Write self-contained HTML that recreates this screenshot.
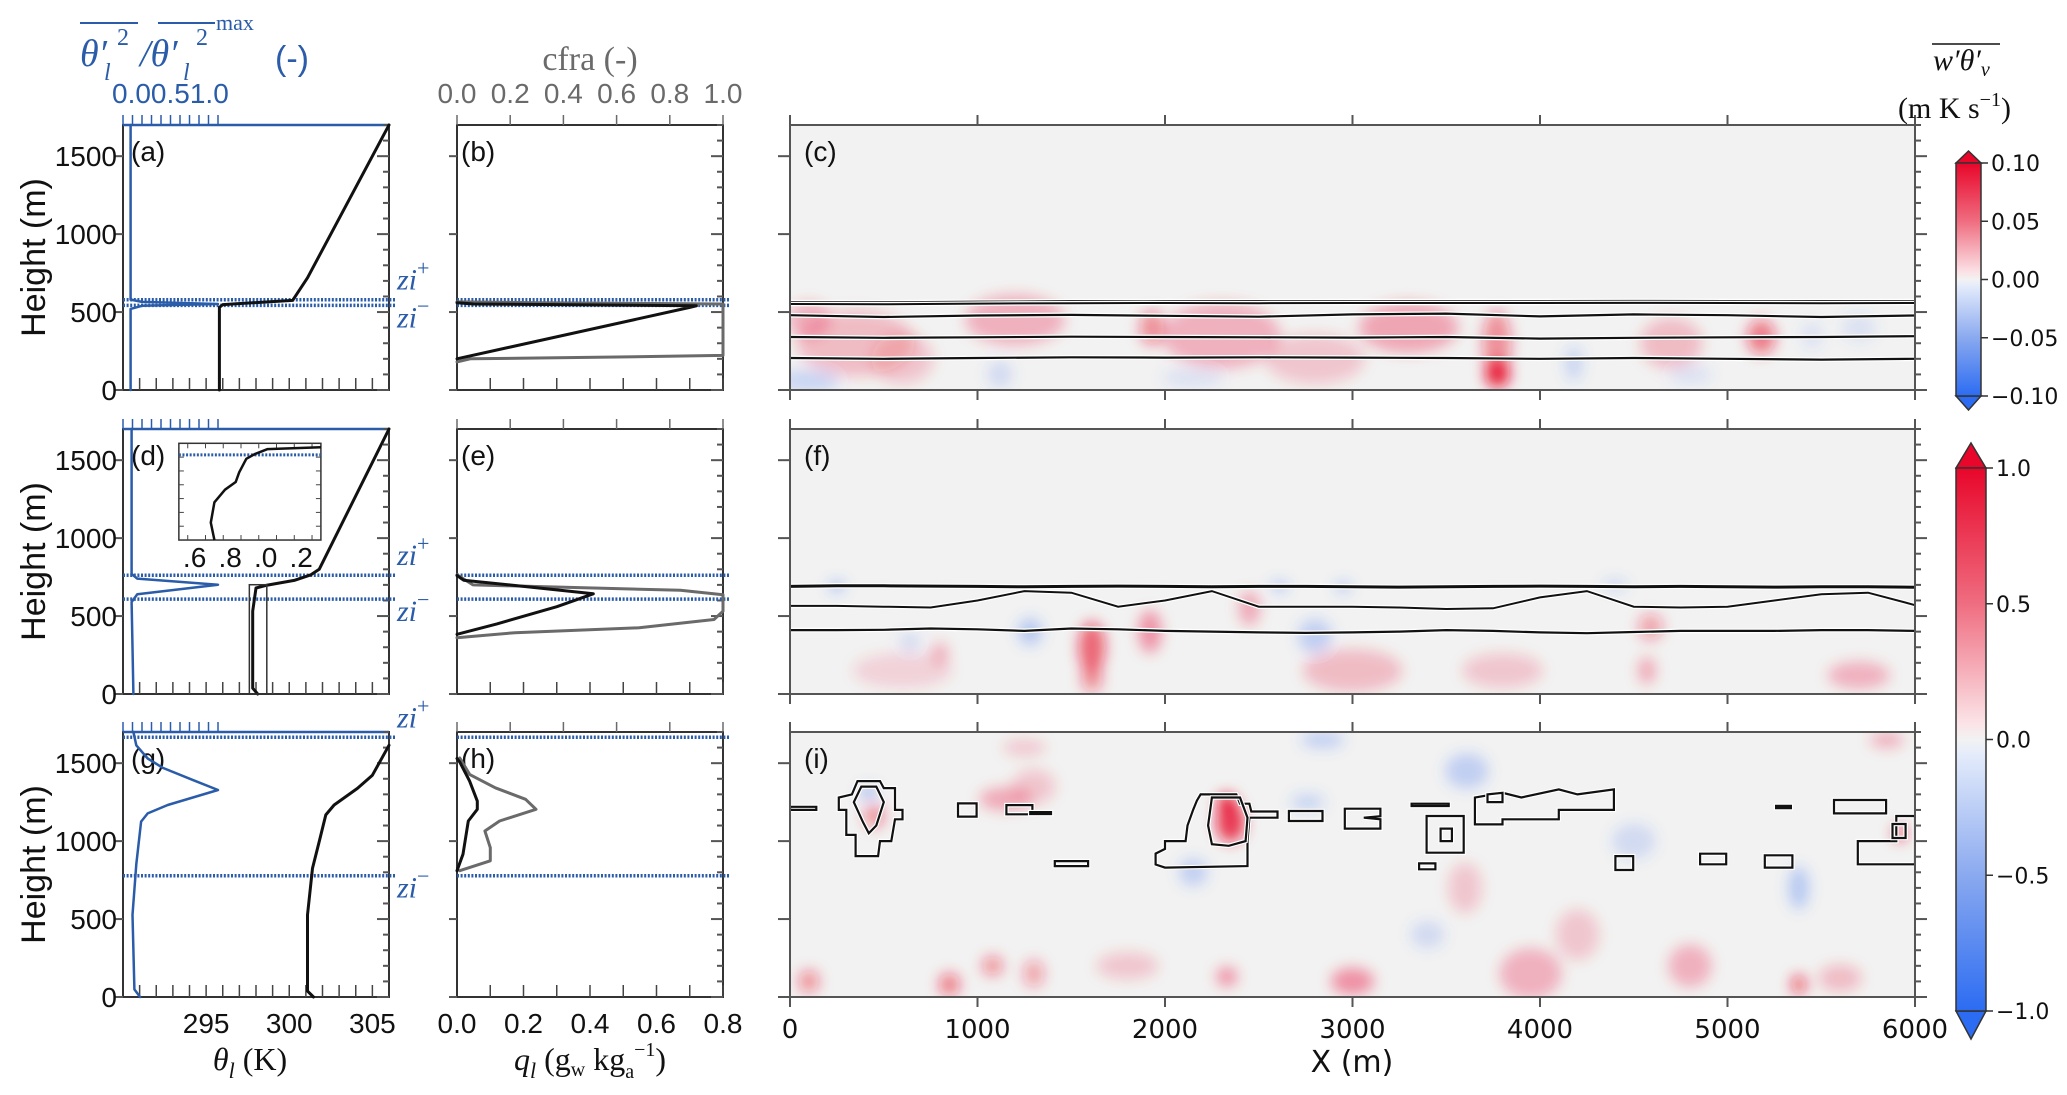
<!DOCTYPE html>
<html><head><meta charset="utf-8">
<style>
html,body{margin:0;padding:0;background:#fff;}
svg{display:block;}
.tk{font-family:"Liberation Sans Narrow","Liberation Sans",sans-serif;font-size:28px;}
.sr{font-family:"Liberation Serif","DejaVu Serif",serif;}
.hx{font-family:"DejaVu Sans","Liberation Sans",sans-serif;font-size:22px;}
</style></head>
<body>
<svg id="fig" width="2067" height="1095" viewBox="0 0 2067 1095" xmlns="http://www.w3.org/2000/svg">
<defs>
<filter id="blur" x="-50%" y="-50%" width="200%" height="200%"><feGaussianBlur stdDeviation="7"/></filter>
<linearGradient id="cbg" x1="0" y1="0" x2="0" y2="1">
<stop offset="0" stop-color="#e8062a"/><stop offset="0.25" stop-color="#ef6d80"/>
<stop offset="0.47" stop-color="#fbe3e7"/><stop offset="0.5" stop-color="#f2f2f2"/>
<stop offset="0.53" stop-color="#e3ebfb"/><stop offset="0.75" stop-color="#8aa9ef"/>
<stop offset="1" stop-color="#2c6cf2"/></linearGradient>
<clipPath id="clipC"><rect x="790" y="125" width="1125" height="265"/></clipPath>
<clipPath id="clipF"><rect x="790" y="429" width="1125" height="265"/></clipPath>
<clipPath id="clipI"><rect x="790" y="732" width="1125" height="265"/></clipPath>
</defs>
<g id="root"></g>
</svg>
<script>
// ---------------- data ----------------
const yTicks=[0,500,1000,1500];
const thetaTicks=[295,300,305];
const qlTicks=[0.0,0.2,0.4,0.6,0.8];
const cfraTicks=[0.0,0.2,0.4,0.6,0.8,1.0];
const xTicks=[0,1000,2000,3000,4000,5000,6000];
const cb1Ticks=[0.10,0.05,0.00,-0.05,-0.10];
const cb2Ticks=[1.0,0.5,0.0,-0.5,-1.0];
// row a/b
const aThetaX=[295.8,295.8,296.0,297.3,300.2,301.1,306.0];
const aThetaZ=[0,530,548,556,575,720,1700];
const aVarX=[0.08,0.08,0.2,1.0,0.2,0.08,0.08];
const aVarZ=[0,520,540,552,565,580,1700];
const bQlX=[0,0.7,0.72,0.05,0];
const bQlZ=[200,530,540,552,560];
const bCfX=[0,0.05,0.6,1.0,1.0,0.3,0];
const bCfZ=[180,200,212,222,552,560,565];
const zi1=[579,543];
// row d/e
const dThetaX=[298.1,297.8,297.8,298.0,298.6,300.3,301.3,301.8,306.0];
const dThetaZ=[0,37,531,680,697,729,765,800,1700];
const dVarX=[0.11,0.1,0.09,0.15,1.0,0.15,0.09,0.09];
const dVarZ=[0,300,590,640,701,740,770,1700];
const eQlX=[0,0.12,0.3,0.41,0.2,0.02,0];
const eQlZ=[383,450,560,643,690,730,760];
const eCfX=[0,0.218,0.685,0.966,1.0,1.0,0.84,0.06,0];
const eCfZ=[361,393,425,478,531,637,665,700,765];
const zi2=[762,609];
const insetX=[0.7,0.68,0.7,0.76,0.82,0.84,0.88,0.93,1.0,1.3];
const insetY=[0.0,0.18,0.39,0.52,0.60,0.70,0.84,0.89,0.94,0.96];
const insetTicks=[".6",".8",".0",".2"];
// row g/h
const gThetaX=[301.46,301.1,301.1,301.4,301.8,302.2,302.7,304.1,305.0,306.0];
const gThetaZ=[0,38,527,826,997,1168,1232,1338,1423,1615];
const gVarX=[0.18,0.12,0.10,0.14,0.19,0.26,0.47,1.0,0.74,0.42,0.26,0.14,0.11];
const gVarZ=[0,49,527,852,1125,1178,1232,1328,1391,1470,1530,1615,1700];
const hQlX=[0,0.018,0.034,0.061,0.061,0.038,0.008,0];
const hQlZ=[810,916,1129,1204,1257,1385,1508,1530];
const hCfX=[0.01,0.125,0.125,0.105,0.16,0.297,0.258,0.144,0.048,0.01];
const hCfZ=[810,874,958,1065,1129,1204,1268,1342,1427,1534];
const zi3=[1666,778];
// heatmap blobs: x(m), z(m), value(-1..1), width(m), height(m)
const cBlobX=[3773,3770,5180,1930,1200,350,2300,3300,2800,4700,600,100,100,1120,2150,4180,5450,5700,4800];
const cBlobZ=[103,300,340,400,450,300,350,400,200,300,200,450,60,100,80,170,350,400,100];
const cBlobV=[1.0,0.5,0.6,0.5,0.3,0.25,0.3,0.35,0.2,0.25,0.2,0.3,-0.25,-0.2,-0.15,-0.25,-0.15,-0.15,-0.15];
const cBlobW=[100,120,120,100,500,600,600,500,500,300,300,200,300,100,300,60,80,150,200];
const cBlobH=[150,400,200,200,300,400,400,300,300,300,300,200,120,150,100,200,150,150,100];
const fBlobX=[1610,1610,1920,2450,4590,4570,3000,3800,5700,600,800,1280,2800,250,2610,2950,4400,640];
const fBlobZ=[300,100,400,550,430,150,150,150,120,150,260,400,370,690,690,685,700,330];
const fBlobV=[0.7,0.5,0.45,0.35,0.4,0.35,0.25,0.2,0.3,0.15,0.3,-0.35,-0.3,-0.6,-0.5,-0.5,-0.3,-0.2];
const fBlobW=[110,80,90,80,100,60,500,400,300,500,60,100,150,50,60,50,100,80];
const fBlobH=[300,150,250,200,150,150,250,200,150,200,120,150,200,30,30,30,30,100];
const iBlobX=[2350,2330,450,420,5920,1150,1300,2760,2840,3610,4500,5380,2150,3400,100,850,1080,1300,2330,3000,3950,4800,5380,5600,1800,4200,3600,5850,1250];
const iBlobZ=[1120,1240,1160,1310,1050,1270,1350,1250,1650,1450,1000,700,800,400,100,80,200,150,130,100,150,200,80,120,200,400,700,1650,1600];
const iBlobV=[0.9,1.0,0.5,-0.5,0.8,0.35,0.2,-0.25,-0.3,-0.3,-0.2,-0.35,-0.3,-0.2,0.5,0.6,0.5,0.4,0.45,0.45,0.3,0.3,0.7,0.25,0.2,0.2,0.2,0.3,0.2];
const iBlobW=[120,70,80,60,40,250,200,150,200,200,200,80,120,150,80,80,80,80,80,200,300,200,50,200,300,200,150,150,200];
const iBlobH=[230,100,120,60,70,120,200,80,80,200,200,250,150,150,120,120,100,150,100,150,300,250,100,150,150,300,300,80,80];
// contour lines (z in m sampled along x)
const cLineX=[0,500,1000,1500,2000,2500,3000,3500,4000,4500,5000,5500,6000];
const cTopZ=[560,558,562,565,566,565,566,566,566,567,566,565,566];
const cL2Z=[480,468,478,482,476,470,485,490,472,485,480,468,478];
const cL3Z=[340,335,338,342,340,338,336,340,330,335,338,340,345];
const cL4Z=[205,200,205,210,208,210,208,205,200,205,200,195,200];
const fLineX=[0,250,500,750,1000,1250,1500,1750,2000,2250,2500,2750,3000,3250,3500,3750,4000,4250,4500,4750,5000,5250,5500,5750,6000];
const fTopZ=[690,695,694,692,690,688,690,692,690,688,690,690,688,686,688,690,692,690,688,690,688,686,688,688,685];
const fMidZ=[565,565,560,555,600,660,650,560,600,660,560,560,560,555,545,550,620,660,560,555,560,600,640,650,570];
const fLowZ=[410,410,412,420,415,405,420,415,405,400,395,392,395,400,410,405,395,390,398,405,405,405,410,410,405];
// closed contours in (i)
const iPolys=[
 [[360,1385],[480,1385],[500,1340],[560,1340],[560,1200],[600,1200],[600,1140],[560,1140],[540,1000],[480,1000],[470,904],[350,904],[350,1040],[300,1040],[300,1200],[260,1200],[260,1280],[330,1300]],
 [[380,1350],[460,1350],[500,1250],[460,1100],[420,1050],[390,1120],[340,1250]],
 [[2190,1300],[2380,1300],[2400,1240],[2450,1240],[2460,1190],[2600,1190],[2600,1150],[2450,1150],[2440,1000],[2440,840],[2000,830],[1950,850],[1950,920],[2000,950],[2000,1000],[2110,1000],[2120,1100],[2150,1200],[2170,1260]],
 [[2250,1280],[2400,1280],[2440,1150],[2430,1000],[2340,970],[2250,980],[2230,1100]],
 [[896,1157],[995,1157],[995,1242],[896,1242]],
 [[1154,1172],[1293,1172],[1293,1231],[1154,1231]],
 [[1412,840],[1590,840],[1590,872],[1412,872]],
 [[2661,1129],[2840,1129],[2840,1193],[2661,1193]],
 [[2959,1080],[3149,1080],[3149,1140],[3060,1150],[3149,1160],[3149,1208],[2959,1208]],
 [[3395,926],[3593,926],[3593,1161],[3395,1161]],
 [[3470,1000],[3530,1000],[3530,1080],[3470,1080]],
 [[3355,819],[3442,819],[3442,857],[3355,857]],
 [[3653,1107],[3800,1107],[3800,1140],[4100,1140],[4100,1200],[4394,1200],[4394,1332],[4200,1300],[4100,1332],[3900,1280],[3800,1310],[3653,1280]],
 [[3720,1250],[3800,1250],[3800,1310],[3720,1300]],
 [[4402,815],[4497,815],[4497,904],[4402,904]],
 [[4854,851],[4993,851],[4993,919],[4854,919]],
 [[5199,830],[5346,830],[5346,909],[5199,909]],
 [[5568,1178],[5846,1178],[5846,1264],[5568,1264]],
 [[5695,851],[6000,851],[6000,1161],[5900,1161],[5900,1000],[5695,1000]],
 [[5880,1020],[5950,1020],[5950,1110],[5880,1110]],
 [[0,1200],[140,1200],[140,1220],[0,1220]],
 [[3315,1225],[3513,1225],[3513,1240],[3315,1240]],
 [[5259,1212],[5338,1212],[5338,1226],[5259,1226]],
 [[1281,1174],[1392,1174],[1392,1186],[1281,1186]]
];
// ---------------- geometry ----------------
const NS='http://www.w3.org/2000/svg';
const root=document.getElementById('root');
const ROWS=[[125,390],[429,694],[732,997]];
const LX=[123,389], MX=[457,723], RX=[790,1915];
const BLUE='#2a5caa', GRAY='#6a6a6a';
function mk(tag,attrs,parent){const e=document.createElementNS(NS,tag);for(const k in attrs)e.setAttribute(k,attrs[k]);(parent||root).appendChild(e);return e;}
function txt(s,x,y,cls,extra,parent){const e=mk('text',Object.assign({x:x,y:y,class:cls||'',fill:'#111'},extra||{}),parent);e.textContent=s;return e;}
const zS=(r,z)=>ROWS[r][1]-z/1700*(ROWS[r][1]-ROWS[r][0]);
const thS=t=>LX[0]+(t-290)/16*(LX[1]-LX[0]);
const blS=v=>123+v*95;
const qlS=q=>MX[0]+q/0.8*(MX[1]-MX[0]);
const cfS=c=>MX[0]+c*(MX[1]-MX[0]);
const xS=x=>RX[0]+x/6000*(RX[1]-RX[0]);

function curve(xs,zs,sx,r,color,w,name){
  const pts=xs.map((v,i)=>sx(v).toFixed(1)+','+zS(r,zs[i]).toFixed(1)).join(' ');
  const p=mk('polyline',{points:pts,fill:'none',stroke:color,'stroke-width':w,'stroke-linejoin':'round','stroke-linecap':'round'});
  
  
  return p;
}
function yAxisTicks(r,x0,x1,out){
  for(let z=0;z<=1700;z+=100){
    const y=zS(r,z), maj=z%500===0, L=maj?12:6;
    if(out){mk('line',{x1:x1,x2:x1+L,y1:y,y2:y,stroke:'#555','stroke-width':2});if(maj)mk('line',{x1:x0,x2:x0-L,y1:y,y2:y,stroke:'#555','stroke-width':2});}
    else{mk('line',{x1:x1,x2:x1-L,y1:y,y2:y,stroke:'#555','stroke-width':2});if(maj)mk('line',{x1:x0,x2:x0-8,y1:y,y2:y,stroke:'#555','stroke-width':2});}
  }
}
function frame(x0,x1,r,name,stroke){
  const f=mk('rect',{x:x0,y:ROWS[r][0],width:x1-x0,height:ROWS[r][1]-ROWS[r][0],fill:'none',stroke:stroke||'#333','stroke-width':2});
  
  
}
function ziLines(r,zs,xs,xe){
  zs.forEach(z=>{const y=zS(r,z);const l=mk('line',{x1:xs,x2:xe,y1:y,y2:y,stroke:BLUE,'stroke-width':3.5,'stroke-dasharray':'2 1.6'});
  
  });
}
function ziLabel(r,z,sup,dy){
  const t=mk('text',{x:397,y:zS(r,z)+dy,class:'sr','font-size':30,'font-style':'italic',fill:BLUE});
  
  
  t.textContent='zi';
  const s=mk('tspan',{dy:-14,'font-size':22,'font-style':'normal'},t);s.textContent=sup;
}
// ---------------- left profile panels ----------------
const profiles=[
 {r:0,lab:'(a)',tx:aThetaX,tz:aThetaZ,vx:aVarX,vz:aVarZ,zi:zi1},
 {r:1,lab:'(d)',tx:dThetaX,tz:dThetaZ,vx:dVarX,vz:dVarZ,zi:zi2},
 {r:2,lab:'(g)',tx:gThetaX,tz:gThetaZ,vx:gVarX,vz:gVarZ,zi:zi3}];
profiles.forEach(p=>{
  const r=p.r,y0=ROWS[r][0],y1=ROWS[r][1];
  frame(LX[0],LX[1],r,'theta-panel-'+p.lab[1]);
  const bs=mk('line',{x1:LX[0],x2:LX[1],y1:y0,y2:y0,stroke:BLUE,'stroke-width':2.5});
  
  
  for(let v=0;v<=1.001;v+=0.1){const x=blS(v);mk('line',{x1:x,x2:x,y1:y0,y2:y0-10,stroke:BLUE,'stroke-width':1.5});}
  for(let t=291;t<=305;t++){const x=thS(t);mk('line',{x1:x,x2:x,y1:y1,y2:y1-12,stroke:'#444','stroke-width':1.5});}
  yAxisTicks(r,LX[0],LX[1],false);
  yTicks.forEach(z=>{const t=txt(String(z),117,zS(r,z)+10,'tk',{'text-anchor':'end'});
    
    });
  const hl=txt('Height (m)',0,0,'',{'font-family':'"Liberation Sans",sans-serif','font-size':34,'text-anchor':'middle',transform:`translate(45,${(y0+y1)/2}) rotate(-90)`});
  
  
  const pl=txt(p.lab,LX[0]+8,y0+36,'tk');
  
  
  ziLines(r,p.zi,LX[0],395);
  curve(p.tx,p.tz,thS,r,'#111',3,'theta-l-profile');
  curve(p.vx,p.vz,blS,r,BLUE,2.5,'variance-profile');
  ziLabel(r,p.zi[0],'+',-10);
  ziLabel(r,p.zi[1],'\u2212',22);
});
// d small box + inset
{
  const r=1;
  mk('rect',{x:thS(297.6),y:zS(r,701),width:thS(298.65)-thS(297.6),height:zS(r,0)-zS(r,701),fill:'none',stroke:'#333','stroke-width':1.5});
  const ix0=LX[0]+0.21*(LX[1]-LX[0]), ix1=LX[0]+0.744*(LX[1]-LX[0]);
  const iy0=ROWS[1][0]+0.054*265, iy1=ROWS[1][0]+0.419*265;
  const ib=mk('rect',{x:ix0,y:iy0,width:ix1-ix0,height:iy1-iy0,fill:'#fff',stroke:'#333','stroke-width':1.5});
  
  
  const iS=v=>ix0+(v-0.5)/0.8*(ix1-ix0);
  for(let k=0;k<8;k++){const x=ix0+(k+0.5)*(ix1-ix0)/8;mk('line',{x1:x,x2:x,y1:iy1,y2:iy1-5,stroke:'#444','stroke-width':1});mk('line',{x1:x,x2:x,y1:iy0,y2:iy0+5,stroke:'#444','stroke-width':1});}
  for(let k=1;k<7;k++){const y=iy0+k*(iy1-iy0)/7;mk('line',{x1:ix0,x2:ix0+5,y1:y,y2:y,stroke:'#444','stroke-width':1});mk('line',{x1:ix1,x2:ix1-5,y1:y,y2:y,stroke:'#444','stroke-width':1});}
  const iyS=f=>iy1-f*(iy1-iy0);
  mk('line',{x1:ix0,x2:ix1,y1:iyS(0.88),y2:iyS(0.88),stroke:BLUE,'stroke-width':3,'stroke-dasharray':'2 1.6'});
  const pts=insetX.map((v,i)=>iS(v).toFixed(1)+','+iyS(insetY[i]).toFixed(1)).join(' ');
  const ic=mk('polyline',{points:pts,fill:'none',stroke:'#111','stroke-width':2.5,'stroke-linejoin':'round'});
  
  
  insetTicks.forEach((s,k)=>{txt(s,iS(0.6+0.2*k)-2,iy1+27,'tk',{'text-anchor':'middle','font-size':24});});
}
// ---------------- middle panels ----------------
const mids=[
 {r:0,lab:'(b)',qx:bQlX,qz:bQlZ,cx:bCfX,cz:bCfZ,zi:zi1},
 {r:1,lab:'(e)',qx:eQlX,qz:eQlZ,cx:eCfX,cz:eCfZ,zi:zi2},
 {r:2,lab:'(h)',qx:hQlX,qz:hQlZ,cx:hCfX,cz:hCfZ,zi:zi3}];
mids.forEach(p=>{
  const r=p.r,y0=ROWS[r][0],y1=ROWS[r][1];
  frame(MX[0],MX[1],r,'ql-panel-'+p.lab[1]);
  for(let c=0;c<=1.001;c+=0.2){const x=cfS(c);mk('line',{x1:x,x2:x,y1:y0,y2:y0-10,stroke:GRAY,'stroke-width':1.5});}
  for(let q=0.1;q<0.8;q+=0.1){const x=qlS(q);mk('line',{x1:x,x2:x,y1:y1,y2:y1-12,stroke:'#444','stroke-width':1.5});}
  yAxisTicks(r,MX[0],MX[1],false);
  const pl=txt(p.lab,MX[0]+4,y0+36,'tk');
  
  
  ziLines(r,p.zi,MX[0],729);
  curve(p.cx,p.cz,cfS,r,GRAY,3,'cloud-fraction-profile');
  curve(p.qx,p.qz,qlS,r,'#111',3,'liquid-water-profile');
});
// ---------------- top labels ----------------
{
  const g=mk('g',{});
  
  
  mk('line',{x1:80,x2:138,y1:23,y2:23,stroke:BLUE,'stroke-width':2},g);
  mk('line',{x1:158,x2:215,y1:23,y2:23,stroke:BLUE,'stroke-width':2},g);
  const s=(t,x,y,fs,it)=>txt(t,x,y,'sr',{'font-size':fs,fill:BLUE,'font-style':it?'italic':'normal'},g);
  s('\u03B8\u2032',80,66,38,true); s('l',104,80,24,true); s('2',117,45,24,false);
  s('/\u03B8\u2032',140,66,38,true); s('l',183,80,24,true); s('2',196,45,24,false);
  s('max',216,30,22,false);
  txt('(-)',292,70,'',{'font-family':'"Liberation Sans",sans-serif','font-size':34,fill:BLUE,'text-anchor':'middle'},g);
  const tl=txt('0.00.51.0',112,103,'tk',{fill:BLUE,'font-size':29});
  
  
  const cf=txt('cfra (-)',590,70,'sr',{'font-size':34,fill:GRAY,'text-anchor':'middle'});
  
  
  cfraTicks.forEach(c=>{const t=txt(c.toFixed(1),cfS(c),103,'tk',{fill:GRAY,'text-anchor':'middle'});
    
    });
}
// bottom labels
thetaTicks.forEach(t=>{const e=txt(String(t),thS(t),1033,'tk',{'text-anchor':'middle'});
  
  });
qlTicks.forEach(q=>{const e=txt(q.toFixed(1),qlS(q),1033,'tk',{'text-anchor':'middle'});
  
  });
{
  const t=mk('text',{x:250,y:1070,class:'sr','font-size':32,fill:'#111','text-anchor':'middle'});
  
  
  t.innerHTML='<tspan font-style="italic">\u03B8</tspan><tspan font-size="22" dy="8" font-style="italic">l</tspan><tspan dy="-8"> (K)</tspan>';
  const q=mk('text',{x:590,y:1070,class:'sr','font-size':32,fill:'#111','text-anchor':'middle'});
  
  
  q.innerHTML='<tspan font-style="italic">q</tspan><tspan font-size="22" dy="8" font-style="italic">l</tspan><tspan dy="-8"> (g</tspan><tspan font-size="20" dy="6">w</tspan><tspan dy="-6"> kg</tspan><tspan font-size="20" dy="8">a</tspan><tspan font-size="20" dy="-22">\u22121</tspan><tspan dy="14">)</tspan>';
}
// ---------------- heatmaps ----------------
function heat(r,clip,lab,bx,bz,bv,bw,bh,lines,polys){
  const y0=ROWS[r][0],y1=ROWS[r][1];
  const bg=mk('rect',{x:RX[0],y:y0,width:RX[1]-RX[0],height:y1-y0,fill:'#f2f2f2'});
  
  
  const g=mk('g',{'clip-path':'url(#'+clip+')'});
  const gb=mk('g',{filter:'url(#blur)'},g);
  bx.forEach((x,i)=>{
    const v=bv[i];
    const e=mk('ellipse',{cx:xS(x),cy:zS(r,bz[i]),rx:bw[i]/6000*(RX[1]-RX[0])/2+3,ry:bh[i]/1700*265/2+2,
      fill:v>0?'#e8102e':'#3a70f0','fill-opacity':Math.min(1,Math.abs(v)*0.9)},gb);
    
    
  });
  (lines||[]).forEach(L=>{
    const pts=L.x.map((x,i)=>xS(x).toFixed(1)+','+zS(r,L.z[i]).toFixed(1)).join(' ');
    mk('polyline',{points:pts,fill:'none',stroke:'#fff','stroke-width':L.w+2.5},g);
    const p=mk('polyline',{points:pts,fill:'none',stroke:'#111','stroke-width':L.w},g);
    
    
  });
  (polys||[]).forEach(P=>{
    const pts=P.map(q=>xS(q[0]).toFixed(1)+','+zS(r,q[1]).toFixed(1)).join(' ');
    mk('polygon',{points:pts,fill:'none',stroke:'#fff','stroke-width':4.5},g);
    const p=mk('polygon',{points:pts,fill:'none',stroke:'#111','stroke-width':2.2},g);
    
    
  });
  frame(RX[0],RX[1],r,'heatmap-panel-'+lab[1],'#555');
  yAxisTicks(r,RX[0],RX[1],true);
  xTicks.forEach(x=>{const X=xS(x);mk('line',{x1:X,x2:X,y1:y0,y2:y0-10,stroke:'#555','stroke-width':2});mk('line',{x1:X,x2:X,y1:y1,y2:y1+10,stroke:'#555','stroke-width':2});});
  const pl=txt(lab,RX[0]+14,y0+36,'tk');
  
  
}
heat(0,'clipC','(c)',cBlobX,cBlobZ,cBlobV,cBlobW,cBlobH,[
  {x:cLineX,z:cTopZ,w:3.5},{x:cLineX,z:cTopZ.map(v=>v-8),w:2},{x:cLineX,z:cL2Z,w:2.2},{x:cLineX,z:cL3Z,w:2.2},{x:cLineX,z:cL4Z,w:2.2}],[]);
heat(1,'clipF','(f)',fBlobX,fBlobZ,fBlobV,fBlobW,fBlobH,[
  {x:fLineX,z:fTopZ,w:3},{x:fLineX,z:fMidZ,w:2},{x:fLineX,z:fLowZ,w:2.2}],[]);
heat(2,'clipI','(i)',iBlobX,iBlobZ,iBlobV,iBlobW,iBlobH,[],iPolys);
xTicks.forEach(x=>{const e=txt(String(x),xS(x),1038,'',{'font-family':'"DejaVu Sans","Liberation Sans",sans-serif','font-size':26,'text-anchor':'middle'});
  
  });
{const e=txt('X (m)',1352,1072,'',{'font-family':'"DejaVu Sans","Liberation Sans",sans-serif','font-size':30,'text-anchor':'middle'});
 
 }
// ---------------- colorbars ----------------
function cbar(x0,x1,tip0,top,bot,tip1,ticks,vmax,fmt,name){
  const g=mk('g',{});
  
  
  const xm=(x0+x1)/2;
  mk('polygon',{points:`${xm},${tip0} ${x1},${top} ${x0},${top}`,fill:'#e8062a',stroke:'#333','stroke-width':1.5},g);
  mk('polygon',{points:`${x0},${bot} ${x1},${bot} ${xm},${tip1}`,fill:'#2c6cf2',stroke:'#333','stroke-width':1.5},g);
  mk('rect',{x:x0,y:top,width:x1-x0,height:bot-top,fill:'url(#cbg)',stroke:'#333','stroke-width':1.5},g);
  ticks.forEach(v=>{const y=top+(vmax-v)/(2*vmax)*(bot-top);
    mk('line',{x1:x1,x2:x1+7,y1:y,y2:y,stroke:'#333','stroke-width':1.5},g);
    txt(fmt(v),x1+10,y+8,'hx',{},g);});
}
const fmtN=d=>v=>(v<0?'\u2212':'')+Math.abs(v).toFixed(d);
cbar(1956,1981,151,163,396,410,cb1Ticks,0.10,fmtN(2),'colorbar-top');
cbar(1956,1986,443,468,1011,1039,cb2Ticks,1.0,fmtN(1),'colorbar-bottom');
{
  const g=mk('g',{});
  
  
  mk('line',{x1:1932,x2:2000,y1:44,y2:44,stroke:'#111','stroke-width':1.5},g);
  const t=mk('text',{x:1933,y:70,class:'sr','font-size':30,fill:'#111','font-style':'italic'},g);
  t.innerHTML='w\u2032\u03B8\u2032<tspan font-size="20" dy="6">v</tspan>';
  const u=mk('text',{x:1898,y:118,class:'sr','font-size':30,fill:'#111'},g);
  u.innerHTML='(m K s<tspan font-size="20" dy="-12">\u22121</tspan><tspan dy="12">)</tspan>';
}
</script>
</body></html>
